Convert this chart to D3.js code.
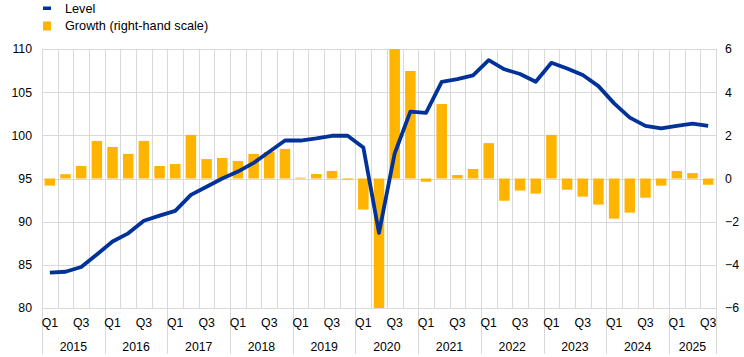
<!DOCTYPE html>
<html>
<head>
<meta charset="utf-8">
<script src="https://cdn.jsdelivr.net/npm/d3@7"></script>
<style>
  html, body { margin: 0; padding: 0; background: #fff; }
  svg { display: block; font-family: "Liberation Sans", Arial, sans-serif; }
</style>
</head>
<body>
<svg id="chart" width="744" height="357"></svg>
<script>
// ---- Data ----
const quarters = ["Q1","Q2","Q3","Q4"];
const years = ["2015","2016","2017","2018","2019","2020","2021","2022","2023","2024","2025"];
const periods = [];
years.forEach(y => quarters.forEach(q => { if (!(y === "2025" && q === "Q4")) periods.push(y + " " + q); }));

const level = [84.1, 84.2, 84.75, 86.2, 87.7, 88.65, 90.1, 90.7, 91.25, 93.1, 94.05, 95.0,
               95.8, 96.8, 98.1, 99.4, 99.4, 99.65, 99.95, 99.95, 98.6, 88.7, 97.9, 102.75,
               102.6, 106.2, 106.5, 106.95, 108.7, 107.65, 107.1, 106.2, 108.4, 107.75, 106.99, 105.7,
               103.7, 102.05, 101.1, 100.8, 101.1, 101.35, 101.1];

const growth = [-0.33, 0.2, 0.58, 1.74, 1.46, 1.14, 1.74, 0.58, 0.67, 2.02, 0.9, 0.95,
                0.81, 1.14, 1.23, 1.37, 0.04, 0.21, 0.35, -0.05, -1.44, -10.0, 10.4, 4.98,
                -0.15, 3.45, 0.16, 0.44, 1.64, -1.03, -0.56, -0.7, 2.02, -0.52, -0.84, -1.21,
                -1.86, -1.58, -0.89, -0.33, 0.35, 0.25, -0.29];

const leftTicks = [80, 85, 90, 95, 100, 105, 110];
const rightTicks = [-6, -4, -2, 0, 2, 4, 6];
const shownQuarterLabels = ["Q1", "Q3"];
const legendLabels = ["Level", "Growth (right-hand scale)"];

// ---- Layout ----
const svg = d3.select("#chart");
const L = 42, R = 716, T = 49, B = 308;
const blue = "#003299", yellow = "#FFB400", grid = "#d9d9d9";
const axisFont = 12.3, legendFont = 12.7;

const x = d3.scaleBand().domain(d3.range(periods.length)).range([L, R]).paddingInner(0.33).paddingOuter(0.165);
const xb = d3.scaleLinear().domain([0, periods.length]).range([L, R]);
const yL = d3.scaleLinear().domain([80, 110]).range([B, T]);
const yR = d3.scaleLinear().domain([-6, 6]).range([B, T]);

// clip
svg.append("defs").append("clipPath").attr("id", "plotclip")
  .append("rect").attr("x", L).attr("y", T).attr("width", R - L).attr("height", B - T);

// horizontal grid
svg.append("g").selectAll("line").data(leftTicks).join("line")
  .attr("x1", L).attr("x2", R)
  .attr("y1", d => Math.round(yL(d)) + 0.5).attr("y2", d => Math.round(yL(d)) + 0.5)
  .attr("stroke", grid).attr("stroke-width", 1);

// vertical quarter grid
svg.append("g").selectAll("line").data(d3.range(periods.length + 1)).join("line")
  .attr("x1", d => Math.round(xb(d)) + 0.5).attr("x2", d => Math.round(xb(d)) + 0.5)
  .attr("y1", T).attr("y2", B)
  .attr("stroke", grid).attr("stroke-width", 1);

// year separators below axis
const yearStarts = [];
years.forEach((y, i) => yearStarts.push(i * 4));
yearStarts.push(periods.length);
svg.append("g").selectAll("line").data(yearStarts).join("line")
  .attr("x1", d => Math.round(xb(d)) + 0.5).attr("x2", d => Math.round(xb(d)) + 0.5)
  .attr("y1", B).attr("y2", 354)
  .attr("stroke", grid).attr("stroke-width", 1);

// bars
svg.append("g").attr("clip-path", "url(#plotclip)").selectAll("rect").data(growth).join("rect")
  .attr("x", (d, i) => x(i)).attr("width", x.bandwidth())
  .attr("y", d => yR(Math.max(0, d)))
  .attr("height", d => Math.abs(yR(d) - yR(0)))
  .attr("fill", yellow);

// line
const line = d3.line().x((d, i) => x(i) + x.bandwidth() / 2).y(d => yL(d));
svg.append("path").datum(level)
  .attr("d", line).attr("fill", "none").attr("stroke", blue)
  .attr("stroke-width", 3.8).attr("stroke-linejoin", "round").attr("stroke-linecap", "butt");

// left axis
const axL = svg.append("g").attr("transform", `translate(${L - 10},0)`)
  .call(d3.axisLeft(yL).tickValues(leftTicks).tickSize(0).tickPadding(0).tickFormat(d3.format("d")));
axL.select(".domain").remove();
axL.selectAll("text").attr("font-size", axisFont).attr("fill", "#000").attr("font-family", "Liberation Sans, Arial, sans-serif");

// right axis
const axR = svg.append("g").attr("transform", `translate(${R + 9},0)`)
  .call(d3.axisRight(yR).tickValues(rightTicks).tickSize(0).tickPadding(0).tickFormat(d3.format("d")));
axR.select(".domain").remove();
axR.selectAll("text").attr("font-size", axisFont).attr("fill", "#000").attr("font-family", "Liberation Sans, Arial, sans-serif");

// bottom axis: quarter labels
const axB = svg.append("g").attr("transform", `translate(0,${B})`)
  .call(d3.axisBottom(x).tickSize(0).tickPadding(10)
    .tickFormat(i => { const q = periods[i].split(" ")[1]; return shownQuarterLabels.includes(q) ? q : ""; }));
axB.select(".domain").remove();
axB.selectAll("text").attr("font-size", axisFont).attr("fill", "#000").attr("font-family", "Liberation Sans, Arial, sans-serif");

// year labels
svg.append("g").selectAll("text").data(years).join("text")
  .attr("x", (d, i) => (xb(i * 4) + xb(Math.min((i + 1) * 4, periods.length))) / 2)
  .attr("y", 351)
  .attr("text-anchor", "middle").attr("font-size", axisFont).attr("fill", "#000")
  .text(d => d);

// legend
svg.append("rect").attr("x", 43).attr("y", 6.5).attr("width", 8).attr("height", 3.5).attr("fill", blue);
svg.append("rect").attr("x", 43).attr("y", 21.5).attr("width", 8).attr("height", 9).attr("fill", yellow);
svg.append("text").attr("x", 65).attr("y", 13).attr("font-size", legendFont).attr("fill", "#000").text(legendLabels[0]);
svg.append("text").attr("x", 65).attr("y", 30).attr("font-size", legendFont).attr("fill", "#000").text(legendLabels[1]);
</script>
</body>
</html>
